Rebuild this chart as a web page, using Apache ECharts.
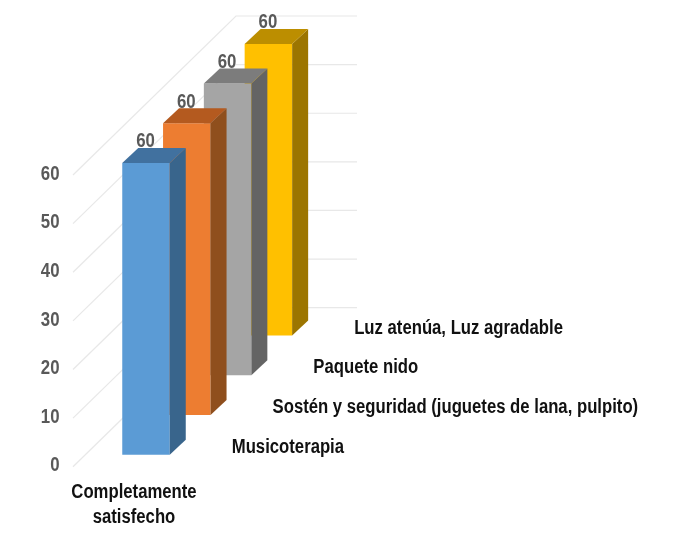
<!DOCTYPE html>
<html>
<head>
<meta charset="utf-8">
<style>html,body{margin:0;padding:0;background:#fff}#c{width:688px;height:535px}</style>
<script src="https://cdn.jsdelivr.net/npm/echarts@6/dist/echarts.min.js"></script>
</head>
<body>
<div id="c"></div>
<script>
const categories = ['Completamente\nsatisfecho'];
const seriesNames = ['Musicoterapia', 'Sostén y seguridad (juguetes de lana, pulpito)', 'Paquete nido', 'Luz atenúa, Luz agradable'];
const seriesValues = [[60], [60], [60], [60]];
const yTicks = [0, 10, 20, 30, 40, 50, 60];
const frontColors = ['#5b9bd5', '#ed7d31', '#a5a5a5', '#ffc000'];
const sideColors = ['#39658c', '#8f4f1d', '#646464', '#9c7500'];
const topColors = ['#41719f', '#b45a1f', '#7c7c7c', '#bc8e00'];

const FONT = '"Liberation Sans",Arial,sans-serif';
const NARROW = 0.835, NARROW_NUM = 0.8;
const BAR_W = 47.5, DEPTH_X = 16, DEPTH_Y = 15;
const STEP_X = 40.8, STEP_Y = 39.7, INSET = 12;
const WALL_X = 163, WALL_Y = 159, BACK_W = 121;

const chart = echarts.init(document.getElementById('c'), null, {renderer: 'canvas'});

// Narrow text: the condensed face is not installed, so the text is squeezed horizontally around its anchor.
function narrowText(x, y, text, font, fill, align, scale, extra) {
  return {
    type: 'text', z2: 5, x: x, y: y, scaleX: scale, scaleY: 1,
    style: Object.assign({x: 0, y: 0, text: text, align: align, verticalAlign: 'middle', font: font, fill: fill}, extra || {})
  };
}

function wallLines(params, api) {
  const v = api.value(0);
  const p = api.coord([0, v]);
  const x0 = p[0] - api.size([1, 0])[0] / 2;
  const y = p[1];
  return {
    type: 'group',
    children: [
      {type: 'polyline',
       shape: {points: [[x0, y], [x0 + WALL_X, y - WALL_Y], [x0 + WALL_X + BACK_W, y - WALL_Y]]},
       style: {fill: null, stroke: '#e8e8e8', lineWidth: 1.2}},
      narrowText(x0 - 13.5, y - 1, String(v), 'bold 21px ' + FONT, '#595959', 'right', NARROW_NUM)
    ]
  };
}

function categoryLabel(params, api) {
  const base = api.coord([api.value(0), 0]);
  return narrowText(base[0], base[1] + 38.5, categories[params.dataIndex], 'bold 20px ' + FONT, '#111111', 'center', NARROW, {lineHeight: 24.5});
}

function barRender(i) {
  return function (params, api) {
    const top = api.coord([api.value(0), api.value(1)]);
    const base = api.coord([api.value(0), 0]);
    const ox = INSET + i * STEP_X, oy = INSET + i * STEP_Y;
    const l = top[0] + ox - BAR_W / 2, r = l + BAR_W;
    const t = top[1] - oy, b = base[1] - oy;
    return {
      type: 'group',
      children: [
        {type: 'rect', shape: {x: l, y: t, width: BAR_W, height: b - t}, style: {fill: frontColors[i]}},
        {type: 'polygon', shape: {points: [[r, t], [r + DEPTH_X, t - DEPTH_Y], [r + DEPTH_X, b - DEPTH_Y], [r, b]]}, style: {fill: sideColors[i]}},
        {type: 'polygon', shape: {points: [[l, t], [l + DEPTH_X, t - DEPTH_Y], [r + DEPTH_X, t - DEPTH_Y], [r, t]]}, style: {fill: topColors[i]}},
        narrowText(l + BAR_W / 2 - 0.5, t - 21.5, String(api.value(1)), 'bold 21px ' + FONT, '#595959', 'center', NARROW_NUM),
        narrowText(r + 62, b - 7.5, seriesNames[i], 'bold 20px ' + FONT, '#111111', 'left', NARROW)
      ]
    };
  };
}

const barSeries = seriesNames.map((name, i) => ({
  type: 'custom', name: name, renderItem: barRender(i), clip: false,
  data: seriesValues[i].map((v, k) => [k, v]), encode: {x: 0, y: 1}, z: 10 - i
}));

chart.setOption({
  animation: false,
  backgroundColor: '#ffffff',
  grid: {left: 73, top: 175, width: 122, height: 291.7},
  xAxis: {
    type: 'category', data: categories,
    axisLine: {show: false}, axisTick: {show: false}, axisLabel: {show: false}
  },
  yAxis: {
    type: 'value', min: 0, max: 60, interval: 10,
    axisLine: {show: false}, axisTick: {show: false}, splitLine: {show: false}, axisLabel: {show: false}
  },
  series: [
    {type: 'custom', name: 'grid', renderItem: wallLines, clip: false, silent: true, data: yTicks.map(v => [v]), encode: {y: 0}, z: 1},
    {type: 'custom', name: 'category', renderItem: categoryLabel, clip: false, silent: true, data: categories.map((c, k) => [k]), encode: {x: 0}, z: 1}
  ].concat(barSeries)
});
</script>
</body>
</html>
